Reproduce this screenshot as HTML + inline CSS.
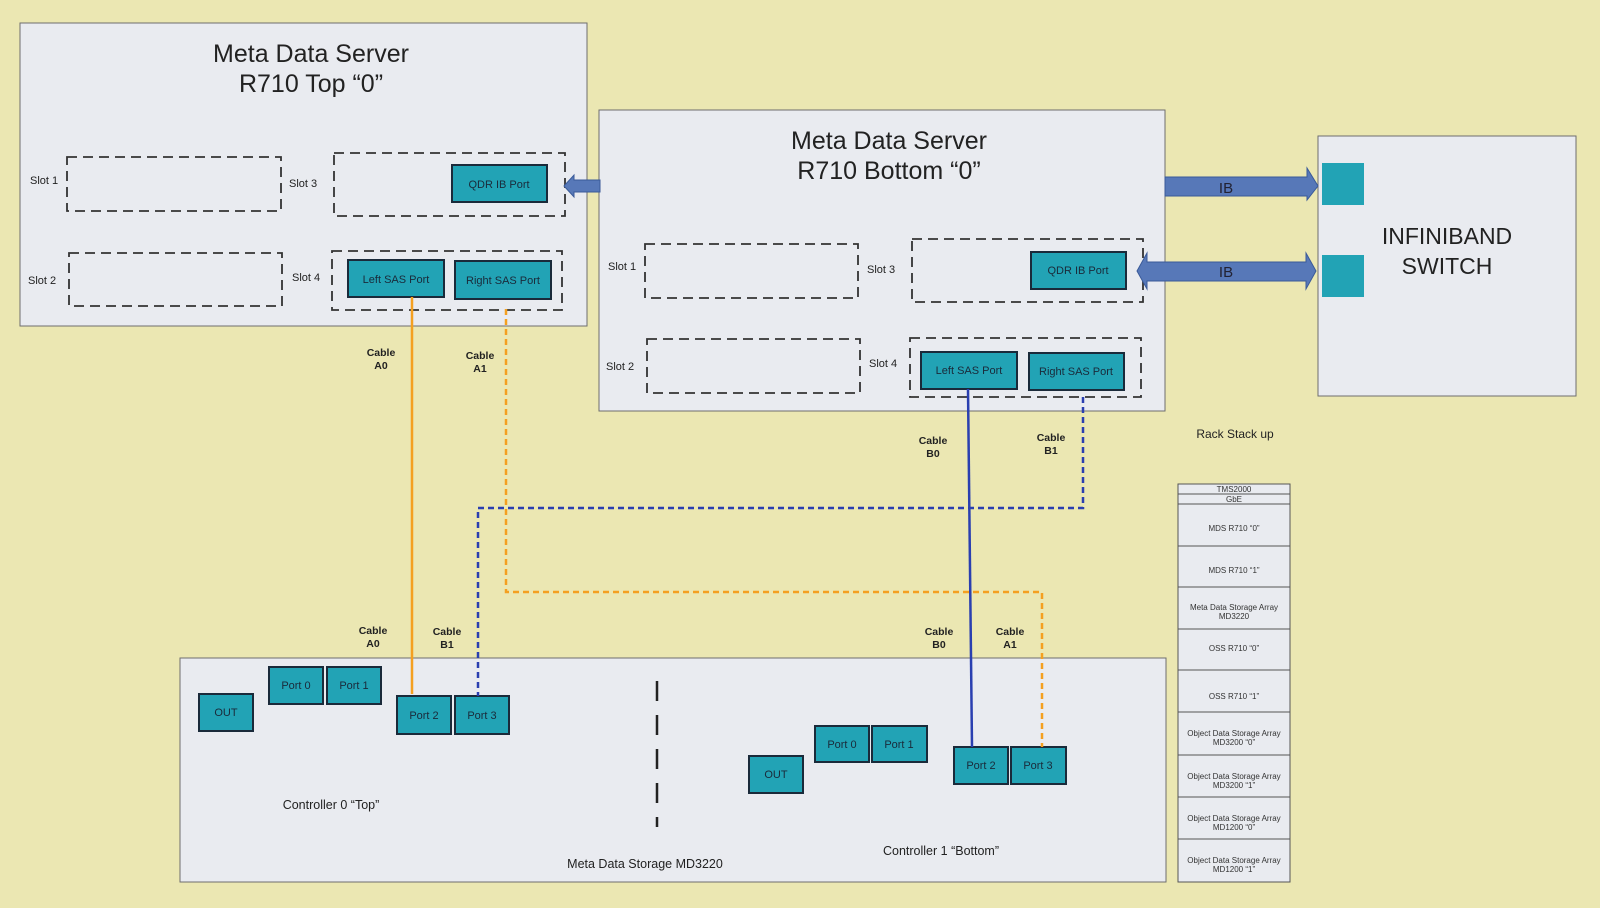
<!DOCTYPE html>
<html><head><meta charset="utf-8"><style>
body{margin:0;background:#ebe7b2;}
svg{display:block;font-family:"Liberation Sans",sans-serif;}
.p{fill:#e9ebf0;stroke:#6e6e6e;stroke-width:1}
.d{fill:none;stroke:#333;stroke-width:1.8;stroke-dasharray:10 6}
.t{fill:#22a3b5;stroke:#1a2a3a;stroke-width:2}
.s{font-size:11px;fill:#222}
.b{font-size:10.5px;font-weight:bold;fill:#222;text-anchor:middle}
.pt{font-size:11px;fill:#1a2a3a;text-anchor:middle}
.r{fill:#e9ebf0;stroke:#555;stroke-width:1}
.rt{font-size:8px;fill:#333;text-anchor:middle}
</style></head><body>
<svg width="1600" height="908" viewBox="0 0 1600 908">
<rect width="1600" height="908" fill="#ebe7b2"/>
<!-- Top server -->
<rect class="p" x="20" y="23" width="567" height="303"/>
<text x="311" y="62" font-size="25" text-anchor="middle" fill="#222">Meta Data Server</text>
<text x="311" y="92" font-size="25" text-anchor="middle" fill="#222">R710 Top “0”</text>
<rect class="d" x="67" y="157" width="214" height="54"/>
<text class="s" x="30" y="184">Slot 1</text>
<text class="s" x="289" y="187">Slot 3</text>
<rect class="d" x="334" y="153" width="231" height="63"/>
<rect class="t" x="452" y="165" width="95" height="37"/><text class="pt" x="499" y="188">QDR IB Port</text>
<rect class="d" x="69" y="253" width="213" height="53"/>
<text class="s" x="28" y="284">Slot 2</text>
<text class="s" x="292" y="281">Slot 4</text>
<rect class="d" x="332" y="251" width="230" height="59"/>
<rect class="t" x="348" y="260" width="96" height="37"/><text class="pt" x="396" y="283">Left SAS Port</text>
<rect class="t" x="455" y="261" width="96" height="38"/><text class="pt" x="503" y="284">Right SAS Port</text>
<!-- Bottom server -->
<rect class="p" x="599" y="110" width="566" height="301"/>
<text x="889" y="149" font-size="25" text-anchor="middle" fill="#222">Meta Data Server</text>
<text x="889" y="179" font-size="25" text-anchor="middle" fill="#222">R710 Bottom “0”</text>
<polygon points="564,186 574,175 574,180 600,180 600,192 574,192 574,197" fill="#5778b8" stroke="#3a5a99"/>
<rect class="d" x="645" y="244" width="213" height="54"/>
<text class="s" x="608" y="270">Slot 1</text>
<text class="s" x="867" y="273">Slot 3</text>
<rect class="d" x="912" y="239" width="231" height="63"/>
<rect class="t" x="1031" y="252" width="95" height="37"/><text class="pt" x="1078" y="274">QDR IB Port</text>
<rect class="d" x="647" y="339" width="213" height="54"/>
<text class="s" x="606" y="370">Slot 2</text>
<text class="s" x="869" y="367">Slot 4</text>
<rect class="d" x="910" y="338" width="231" height="59"/>
<rect class="t" x="921" y="352" width="96" height="37"/><text class="pt" x="969" y="374">Left SAS Port</text>
<rect class="t" x="1029" y="353" width="95" height="37"/><text class="pt" x="1076" y="375">Right SAS Port</text>
<!-- Switch -->
<rect class="p" x="1318" y="136" width="258" height="260"/>
<rect fill="#22a3b5" x="1322" y="163" width="42" height="42"/>
<rect fill="#22a3b5" x="1322" y="255" width="42" height="42"/>
<text x="1447" y="244" font-size="23" text-anchor="middle" fill="#222">INFINIBAND</text>
<text x="1447" y="274" font-size="23" text-anchor="middle" fill="#222">SWITCH</text>
<!-- IB arrows -->
<polygon points="1165,177 1307,177 1307,168 1318,186 1307,200 1307,196 1165,196" fill="#5778b8" stroke="#3a5a99"/>
<text x="1226" y="193" font-size="15" text-anchor="middle" fill="#223">IB</text>
<polygon points="1137,271 1147,253 1147,262 1306,262 1306,253 1316,271 1306,289 1306,281 1147,281 1147,289" fill="#5778b8" stroke="#3a5a99"/>
<text x="1226" y="277" font-size="15" text-anchor="middle" fill="#223">IB</text>
<!-- Rack -->
<text x="1235" y="438" font-size="12" text-anchor="middle" fill="#222">Rack Stack up</text>
<g>
<rect class="r" x="1178" y="484" width="112" height="10"/><text class="rt" x="1234" y="492">TMS2000</text>
<rect class="r" x="1178" y="494" width="112" height="10"/><text class="rt" x="1234" y="502">GbE</text>
<rect class="r" x="1178" y="504" width="112" height="42"/><text class="rt" x="1234" y="531">MDS R710  “0”</text>
<rect class="r" x="1178" y="546" width="112" height="41"/><text class="rt" x="1234" y="573">MDS R710 “1”</text>
<rect class="r" x="1178" y="587" width="112" height="42"/><text class="rt" x="1234" y="610">Meta Data Storage Array</text><text class="rt" x="1234" y="619">MD3220</text>
<rect class="r" x="1178" y="629" width="112" height="41"/><text class="rt" x="1234" y="651">OSS R710 “0”</text>
<rect class="r" x="1178" y="670" width="112" height="42"/><text class="rt" x="1234" y="699">OSS R710 “1”</text>
<rect class="r" x="1178" y="712" width="112" height="43"/><text class="rt" x="1234" y="736">Object Data Storage Array</text><text class="rt" x="1234" y="745">MD3200 “0”</text>
<rect class="r" x="1178" y="755" width="112" height="42"/><text class="rt" x="1234" y="779">Object Data Storage Array</text><text class="rt" x="1234" y="788">MD3200 “1”</text>
<rect class="r" x="1178" y="797" width="112" height="42"/><text class="rt" x="1234" y="821">Object Data Storage Array</text><text class="rt" x="1234" y="830">MD1200 “0”</text>
<rect class="r" x="1178" y="839" width="112" height="43"/><text class="rt" x="1234" y="863">Object Data Storage Array</text><text class="rt" x="1234" y="872">MD1200 “1”</text>
</g>
<!-- Storage -->
<rect class="p" x="180" y="658" width="986" height="224"/>
<line x1="657" y1="681" x2="657" y2="827" stroke="#222" stroke-width="2.5" stroke-dasharray="20 14"/>
<rect class="t" x="199" y="694" width="54" height="37"/><text class="pt" x="226" y="716">OUT</text>
<rect class="t" x="269" y="667" width="54" height="37"/><text class="pt" x="296" y="689">Port 0</text>
<rect class="t" x="327" y="667" width="54" height="37"/><text class="pt" x="354" y="689">Port 1</text>
<rect class="t" x="397" y="696" width="54" height="38"/><text class="pt" x="424" y="719">Port 2</text>
<rect class="t" x="455" y="696" width="54" height="38"/><text class="pt" x="482" y="719">Port 3</text>
<rect class="t" x="749" y="756" width="54" height="37"/><text class="pt" x="776" y="778">OUT</text>
<rect class="t" x="815" y="726" width="54" height="36"/><text class="pt" x="842" y="748">Port 0</text>
<rect class="t" x="872" y="726" width="55" height="36"/><text class="pt" x="899" y="748">Port 1</text>
<rect class="t" x="954" y="747" width="54" height="37"/><text class="pt" x="981" y="769">Port 2</text>
<rect class="t" x="1011" y="747" width="55" height="37"/><text class="pt" x="1038" y="769">Port 3</text>
<text x="331" y="809" font-size="12.5" text-anchor="middle" fill="#222">Controller 0 “Top”</text>
<text x="941" y="855" font-size="12.5" text-anchor="middle" fill="#222">Controller 1 “Bottom”</text>
<text x="645" y="868" font-size="12.5" text-anchor="middle" fill="#222">Meta Data Storage MD3220</text>
<!-- cables -->
<line x1="412" y1="297" x2="412" y2="694" stroke="#f4a020" stroke-width="2.5"/>
<polyline points="506,309 506,592 1042,592 1042,747" fill="none" stroke="#f4a020" stroke-width="2.5" stroke-dasharray="6 4"/>
<polyline points="1083,397 1083,508 478,508 478,696" fill="none" stroke="#2a3fb0" stroke-width="2.5" stroke-dasharray="6 4"/>
<line x1="968" y1="389" x2="972" y2="747" stroke="#2a3fb0" stroke-width="2.5"/>
<g class="b">
<text x="381" y="356">Cable</text><text x="381" y="369">A0</text>
<text x="480" y="359">Cable</text><text x="480" y="372">A1</text>
<text x="933" y="444">Cable</text><text x="933" y="457">B0</text>
<text x="1051" y="441">Cable</text><text x="1051" y="454">B1</text>
<text x="373" y="634">Cable</text><text x="373" y="647">A0</text>
<text x="447" y="635">Cable</text><text x="447" y="648">B1</text>
<text x="939" y="635">Cable</text><text x="939" y="648">B0</text>
<text x="1010" y="635">Cable</text><text x="1010" y="648">A1</text>
</g>
</svg>
</body></html>
